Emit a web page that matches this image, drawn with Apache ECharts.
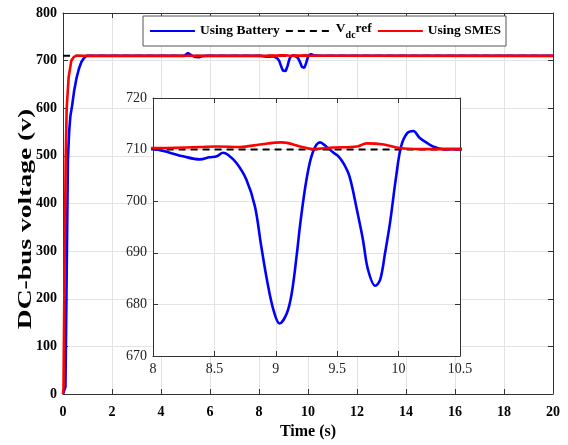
<!DOCTYPE html>
<html>
<head>
<meta charset="utf-8">
<script src="https://cdn.jsdelivr.net/npm/echarts@6/dist/echarts.min.js"></script>
<style>
  html, body { margin: 0; padding: 0; background: #fff; }
  #chart { width: 568px; height: 445px; }
</style>
</head>
<body>
<div id="chart"></div>
<script>
// DC-bus voltage response: battery vs SMES storage, with a zoomed window 8–10.5 s
const batteryTime = [0, 0.07, 0.1, 0.15, 0.2, 0.25, 0.3, 0.37, 0.45, 0.55, 0.65, 0.75, 0.85, 0.96, 2, 4.95, 5.1, 5.25, 5.4, 5.55, 5.7, 5.85,
  8.0, 8.136, 8.245, 8.38, 8.46, 8.52, 8.57, 8.61, 8.68, 8.76, 8.83, 8.88, 8.93, 8.98, 9.03, 9.09, 9.13, 9.17, 9.20,
  9.25, 9.30, 9.36, 9.41, 9.47, 9.51, 9.55, 9.60, 9.66, 9.71, 9.75, 9.81, 9.85, 9.89, 9.93, 9.98, 10.02, 10.07,
  10.12, 10.17, 10.23, 10.28, 10.36, 10.5, 20];
const batteryVolt = [0, 0, 15, 250, 490, 550, 583, 605, 635, 663, 683, 697, 705, 710, 710, 710, 716, 711, 707.5, 707, 709.5, 710,
  710.1, 709.4, 708.7, 708.1, 708.5, 708.7, 709.4, 709.0, 707.4, 704.2, 699, 691.5, 684.5, 679.0, 676.3, 678.3, 682.2, 689.5, 695.8,
  704.2, 709.4, 711.4, 710.6, 709.4, 708.7, 707.4, 704.8, 698.4, 692.5, 686.8, 683.6, 684.8, 690, 695.8, 704.8, 710.6, 713.2,
  713.6, 712.3, 711.3, 710.6, 710.1, 710.1, 710];

const smesTime = [0, 0.02, 0.06, 0.11, 0.15, 0.23, 0.34, 0.45, 0.55, 8.0, 8.38, 8.52, 8.71, 8.87, 9.05, 9.2, 9.3,
  9.47, 9.66, 9.74, 9.88, 10.01, 10.17, 10.5, 20];
const smesVolt = [0, 12, 250, 496, 600, 665, 700, 708, 710.3, 710.3, 710.5, 710.6, 710.5, 711.0, 711.4, 710.6, 710.1,
  710.4, 710.6, 711.2, 711.0, 710.3, 710.1, 710.1, 710.1];

const refTime = [0, 20];
const refVolt = [710, 710];

const mainXTicks = { min: 0, max: 20, interval: 2 };
const mainYTicks = { min: 0, max: 800, interval: 100 };
const zoomXTicks = { min: 8, max: 10.5, interval: 0.5 };
const zoomYTicks = { min: 670, max: 720, interval: 10 };

const seriesNames = ['Using Battery', 'Vdc ref', 'Using SMES'];
const yTitle = 'DC-bus voltage (v)';

const pairs = (t, v) => t.map((x, i) => [x, v[i]]);
const batteryData = pairs(batteryTime, batteryVolt);
const smesData = pairs(smesTime, smesVolt);
const refData = pairs(refTime, refVolt);

const FONT = "'Liberation Serif', 'Times New Roman', serif";
const AXIS_COLOR = '#333';
const GRID_COLOR = '#e3e3e3';

function axisBase(extra) {
  return Object.assign({
    type: 'value',
    axisLine: { show: true, onZero: false, lineStyle: { color: AXIS_COLOR, width: 1 } },
    axisTick: { show: true, inside: true, length: 5, lineStyle: { color: AXIS_COLOR } },
    splitLine: { show: false }
  }, extra);
}

function lines(gridIdx, z, smooth) {
  const xi = gridIdx * 2, yi = gridIdx * 2;
  return [
    { name: seriesNames[1], type: 'line', xAxisIndex: xi, yAxisIndex: yi, data: refData, symbol: 'none',
      clip: true, z: z, lineStyle: { color: '#000', width: 2, type: [7, 5] }, itemStyle: { color: '#000' } },
    { name: seriesNames[0], type: 'line', xAxisIndex: xi, yAxisIndex: yi, data: batteryData, symbol: 'none',
      smooth: smooth, clip: true, z: z, lineStyle: { color: '#0000ff', width: 2.6 }, itemStyle: { color: '#0000ff' } },
    { name: seriesNames[2], type: 'line', xAxisIndex: xi, yAxisIndex: yi, data: smesData, symbol: 'none',
      smooth: smooth, clip: true, z: z, lineStyle: { color: '#ff0000', width: 2.6 }, itemStyle: { color: '#ff0000' } }
  ];
}

const chart = echarts.init(document.getElementById('chart'), null, { renderer: 'canvas' });

chart.setOption({
  animation: false,
  backgroundColor: '#fff',
  textStyle: { fontFamily: FONT },
  legend: {
    data: seriesNames,
    left: 143, top: 16,
    padding: [6, 5, 6, 6],
    itemGap: 5,
    itemWidth: 45,
    itemHeight: 14,
    backgroundColor: '#fff',
    borderColor: '#555',
    borderWidth: 1,
    z: 10,
    itemStyle: { opacity: 0 },
    formatter: name => name === 'Vdc ref' ? '{v|V}{sub|dc}{v|ref}' : name,
    textStyle: {
      fontFamily: FONT, fontWeight: 'bold', fontSize: 13.5, color: '#000',
      rich: {
        v: { fontFamily: FONT, fontWeight: 'bold', fontSize: 13.5, color: '#000', verticalAlign: 'top' },
        sub: { fontFamily: FONT, fontWeight: 'bold', fontSize: 10, color: '#000', padding: [8, 0, 0, 0] }
      }
    }
  },
  graphic: [{
    type: 'text',
    x: 26, y: 219,
    rotation: Math.PI / 2,
    scaleX: 1.45,
    style: {
      text: yTitle,
      fontFamily: FONT, fontWeight: 'bold', fontSize: 19, fill: '#000',
      align: 'center', verticalAlign: 'middle'
    }
  }],
  grid: [
    { left: 63, right: 15, top: 13, bottom: 46, containLabel: false },
    { left: 153, right: 108, top: 98, bottom: 89, containLabel: false, show: true,
      backgroundColor: '#fff', borderWidth: 0, z: 1 }
  ],
  xAxis: [
    axisBase(Object.assign({ gridIndex: 0, position: 'bottom', name: 'Time (s)', nameLocation: 'middle', nameGap: 30,
      nameTextStyle: { fontFamily: FONT, fontWeight: 'bold', fontSize: 16, color: '#000' },
      axisLabel: { fontFamily: FONT, fontWeight: 'bold', fontSize: 14, color: '#000', margin: 11 },
      splitLine: { show: true, lineStyle: { color: GRID_COLOR, width: 1 } } }, mainXTicks)),
    axisBase(Object.assign({ gridIndex: 0, position: 'top', axisLabel: { show: false } }, mainXTicks)),
    axisBase(Object.assign({ gridIndex: 1, position: 'bottom', z: 1,
      axisLabel: { fontFamily: FONT, fontSize: 14, color: '#222', margin: 6 },
      splitLine: { show: true, lineStyle: { color: GRID_COLOR, width: 1 } } }, zoomXTicks)),
    axisBase(Object.assign({ gridIndex: 1, position: 'top', z: 1, axisLabel: { show: false } }, zoomXTicks))
  ],
  yAxis: [
    axisBase(Object.assign({ gridIndex: 0, position: 'left',
      axisLabel: { fontFamily: FONT, fontWeight: 'bold', fontSize: 14, color: '#000', margin: 6 },
      splitLine: { show: true, lineStyle: { color: GRID_COLOR, width: 1 } } }, mainYTicks)),
    axisBase(Object.assign({ gridIndex: 0, position: 'right', axisLabel: { show: false } }, mainYTicks)),
    axisBase(Object.assign({ gridIndex: 1, position: 'left', z: 1,
      axisLabel: { fontFamily: FONT, fontSize: 14, color: '#222', margin: 6 },
      splitLine: { show: true, lineStyle: { color: GRID_COLOR, width: 1 } } }, zoomYTicks)),
    axisBase(Object.assign({ gridIndex: 1, position: 'right', z: 1, axisLabel: { show: false } }, zoomYTicks))
  ],
  series: [].concat(lines(0, 2, false), lines(1, 3, 0.35))
});
</script>
</body>
</html>
